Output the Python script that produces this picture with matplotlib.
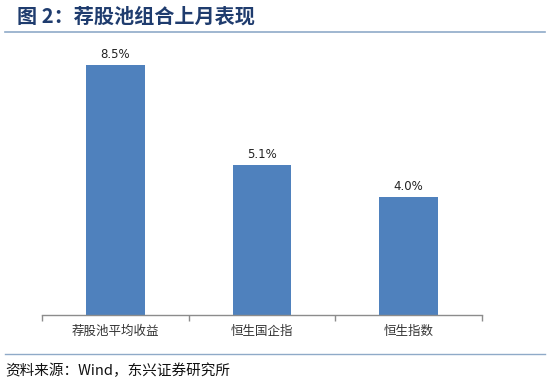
import matplotlib
matplotlib.use("Agg")
import matplotlib.pyplot as plt
from matplotlib.lines import Line2D

plt.rcParams['font.family'] = ['Noto Sans CJK SC', 'DejaVu Sans']

categories = ["荐股池平均收益", "恒生国企指", "恒生指数"]
values = [8.5, 5.1, 4.0]
value_labels = ["8.5%", "5.1%", "4.0%"]

W, H = 550, 389
fig = plt.figure(figsize=(W / 100, H / 100), dpi=100)

# axes: x from 42 to 482 px, baseline at y=315 px
ax = fig.add_axes([42 / W, (H - 315) / H, 440 / W, 294 / H])
x = range(len(categories))
bars = ax.bar(x, values, width=0.4, color="#4F81BD", zorder=2)
ax.set_xlim(-0.5, len(categories) - 0.5)
ax.set_ylim(0, 10)

for b, lab in zip(bars, value_labels):
    ax.annotate(lab, (b.get_x() + b.get_width() / 2, b.get_height()),
                xytext=(0, 3), textcoords="offset points",
                ha="center", va="bottom", fontsize=8.5, color="#222222",
                family=['DejaVu Sans'])

for s in ["top", "right", "left"]:
    ax.spines[s].set_visible(False)
ax.spines["bottom"].set_color("#8C8C8C")
ax.spines["bottom"].set_linewidth(1.0)
ax.set_yticks([])
ax.set_xticks([-0.5, 0.5, 1.5, 2.5])
ax.set_xticklabels([])
ax.tick_params(axis="x", length=4, color="#8C8C8C", width=1.0)
ax.set_xticks(list(x), minor=True)
ax.set_xticklabels(categories, minor=True, fontsize=9, color="#333333")
ax.tick_params(axis="x", which="minor", length=0, pad=7)

# title and rules
fig.text(17 / W, 1 - 16 / H, "图 2：荐股池组合上月表现", fontsize=14.5,
         fontweight="bold", color="#1F3C6E", va="center", ha="left")
fig.add_artist(Line2D([5 / W, 545 / W], [1 - 32 / H, 1 - 32 / H],
                     color="#8FAAC8", linewidth=1.2))
fig.add_artist(Line2D([5 / W, 545 / W], [1 - 354 / H, 1 - 354 / H],
                     color="#8FAAC8", linewidth=1.0))
fig.text(5 / W, 1 - 371 / H, "资料来源：Wind，东兴证券研究所", fontsize=10.5,
         color="#111111", va="center", ha="left", style="italic")

fig.savefig("out.png", dpi=100)
